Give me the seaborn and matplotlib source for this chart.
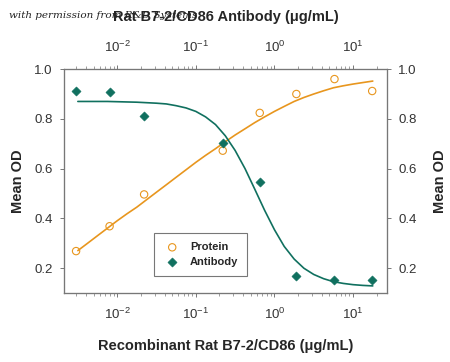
import numpy as np
import pandas as pd
import seaborn as sns
import matplotlib.pyplot as plt
from matplotlib.ticker import LogLocator, NullFormatter

# measured points
conc = [0.003, 0.008, 0.022, 0.22, 0.65, 1.9, 5.8, 17.5]
protein = [0.268, 0.368, 0.496, 0.672, 0.824, 0.90, 0.96, 0.912]
antibody = [0.912, 0.908, 0.812, 0.704, 0.544, 0.168, 0.152, 0.152]

# fitted curves
fit_conc = [0.00316, 0.00422, 0.00562, 0.0075, 0.01, 0.0133, 0.0178, 0.0237,
            0.0316, 0.0422, 0.0562, 0.075, 0.1, 0.133, 0.178, 0.237, 0.316,
            0.422, 0.562, 0.75, 1.0, 1.33, 1.78, 2.37, 3.16, 4.22, 5.62, 7.5,
            10.0, 13.3, 17.8]
fit_protein = [0.27, 0.30, 0.33, 0.36, 0.39, 0.418, 0.445, 0.475, 0.505, 0.535,
               0.565, 0.595, 0.625, 0.653, 0.68, 0.708, 0.735, 0.76, 0.785,
               0.808, 0.83, 0.85, 0.87, 0.886, 0.90, 0.913, 0.925, 0.933,
               0.94, 0.946, 0.952]
fit_antibody = [0.870, 0.870, 0.870, 0.870, 0.869, 0.868, 0.867, 0.865, 0.863,
                0.860, 0.853, 0.844, 0.830, 0.808, 0.777, 0.732, 0.673, 0.600,
                0.517, 0.432, 0.354, 0.287, 0.236, 0.199, 0.174, 0.157, 0.145,
                0.138, 0.133, 0.130, 0.128]

orange = '#e8961e'
teal = '#10705f'
grey = '#777777'

sns.set_style('white')
plt.rcParams['font.family'] = ['Liberation Sans', 'DejaVu Sans']

pts = pd.DataFrame({'conc': conc, 'Protein': protein, 'Antibody': antibody})
fit = pd.DataFrame({'conc': fit_conc, 'Protein': fit_protein, 'Antibody': fit_antibody})

fig = plt.figure(figsize=(4.5, 3.62), dpi=100)
ax = fig.add_axes([0.142, 0.191, 0.718, 0.618])

sns.lineplot(data=fit, x='conc', y='Protein', color=orange, lw=1.2, ax=ax)
sns.lineplot(data=fit, x='conc', y='Antibody', color=teal, lw=1.2, ax=ax)
sns.scatterplot(data=pts, x='conc', y='Protein', marker='o', s=28,
                facecolor='none', edgecolor=orange, linewidth=0.8,
                label='Protein', ax=ax, zorder=3)
sns.scatterplot(data=pts, x='conc', y='Antibody', marker='D', s=22,
                color=teal, edgecolor=teal, label='Antibody', ax=ax, zorder=3)

ax.set_xscale('log')
ax.set_xlim(0.0021, 27)
ax.set_ylim(0.1, 1.0)
ax.set_yticks([0.2, 0.4, 0.6, 0.8, 1.0])
ax.set_yticklabels(['0.2', '0.4', '0.6', '0.8', '1.0'])

ax.set_xlabel('Recombinant Rat B7-2/CD86 (\u03bcg/mL)', fontsize=10.5,
              fontweight='bold', labelpad=12)
ax.set_ylabel('Mean OD', fontsize=10.5, fontweight='bold', labelpad=7)

leg = ax.legend(loc='lower left', bbox_to_anchor=(0.263, 0.05), frameon=True,
                fancybox=False, fontsize=8, handletextpad=0.8,
                borderpad=0.8, labelspacing=0.45, handlelength=1.6)
leg.get_frame().set_edgecolor('#555555')
leg.get_frame().set_linewidth(0.8)
for t in leg.get_texts():
    t.set_fontweight('bold')

top = ax.twiny()
top.set_xscale('log')
top.set_xlim(ax.get_xlim())
top.set_xlabel('Rat B7-2/CD86 Antibody (\u03bcg/mL)', fontsize=10.5,
               fontweight='bold', labelpad=14)

right = ax.twinx()
right.set_ylim(ax.get_ylim())
right.set_yticks([0.2, 0.4, 0.6, 0.8, 1.0])
right.set_yticklabels(['0.2', '0.4', '0.6', '0.8', '1.0'])
right.set_ylabel('Mean OD', fontsize=10.5, fontweight='bold', labelpad=12)

for a in (ax, top, right):
    for sp in a.spines.values():
        sp.set_color(grey)
        sp.set_linewidth(0.8)
    a.tick_params(which='major', direction='out', length=3, width=0.7,
                  color=grey, labelsize=9.5, labelcolor='#333333', pad=5)
    a.tick_params(which='minor', direction='out', length=2, width=0.5,
                  color=grey)

for a in (ax, top):
    a.xaxis.set_major_locator(LogLocator(base=10, numticks=10))
    a.xaxis.set_minor_locator(LogLocator(base=10, subs=np.arange(2, 10), numticks=10))
    a.xaxis.set_minor_formatter(NullFormatter())
    a.tick_params(axis='x', which='major', pad=7)
ax.tick_params(axis='y', which='minor', left=False)

fig.text(0.02, 0.95, 'with permission from R&D Systems', fontsize=7.5,
         family='DejaVu Serif', style='italic', color='#222222')

fig.savefig('out.png', dpi=100)
